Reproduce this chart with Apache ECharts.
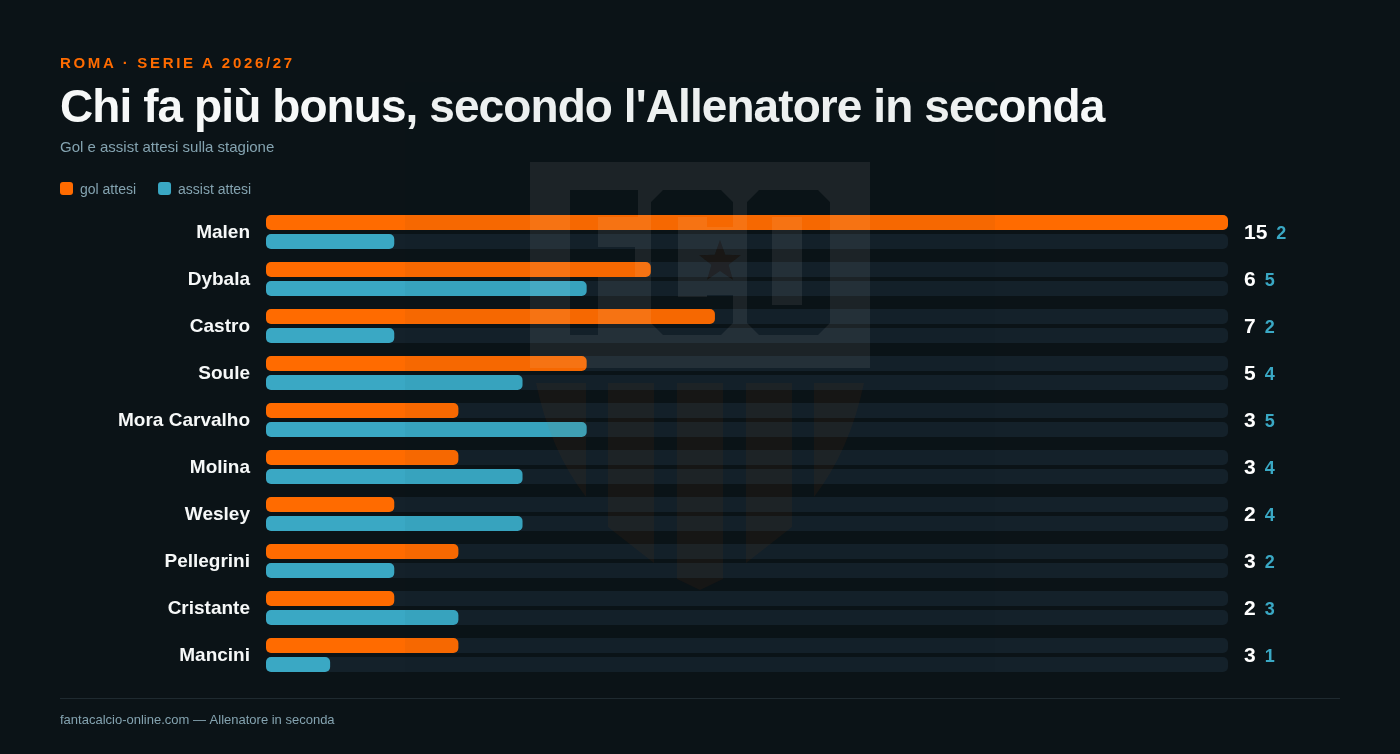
<!DOCTYPE html>
<html lang="it">
<head>
<meta charset="utf-8">
<title>Chi fa più bonus</title>
<style>
html,body{margin:0;padding:0;width:1400px;height:754px;background:#0b1317;overflow:hidden;font-family:"Liberation Sans",Arial,sans-serif}
#eyebrow,#headline{position:absolute;left:60px;white-space:nowrap;margin:0;will-change:transform}
#eyebrow{top:54px;font-size:15px;line-height:18px;font-weight:700;letter-spacing:2.68px;color:#ff6b00}
#headline{top:77px;font-size:46px;line-height:58px;font-weight:700;letter-spacing:-0.92px;color:#f6f8f8}
#chart{position:absolute;left:0;top:0;width:1400px;height:754px}
</style>
</head>
<body>
<div id="eyebrow">ROMA · SERIE A 2026/27</div>
<h1 id="headline">Chi fa più bonus, secondo l'Allenatore in seconda</h1>
<div id="chart"></div>
<script src="https://cdn.jsdelivr.net/npm/echarts@6/dist/echarts.min.js"></script>
<script>
const players = ['Malen','Dybala','Castro','Soule','Mora Carvalho','Molina','Wesley','Pellegrini','Cristante','Mancini'];
const golAttesi = [15,6,7,5,3,3,2,3,2,3];
const assistAttesi = [2,5,2,4,5,4,4,2,3,1];
const seriesNames = ['gol attesi','assist attesi'];
const subtitleText = 'Gol e assist attesi sulla stagione';
const footerText = 'fantacalcio-online.com — Allenatore in seconda';

const ORANGE = '#ff6b00', TEAL = '#3aa8c4', TRACK = '#14212a', MUTED = '#84a3b0';

const starPath = 'M720 240L725.3 254.7L740.9 255.2L728.6 264.8L732.9 279.8L720 271L707.1 279.8L711.4 264.8L699.1 255.2L714.7 254.7Z';
const boxPath = 'M530 162L530 368L870 368L870 162Z'
  + 'M570 190L638 190L638 217L598 217L598 247L635 247L635 277L598 277L598 335L570 335Z'
  + 'M663 190L721 190L733 202L733 227L707 227L707 217L678 217L678 297L707 297L707 295L733 295L733 323L721 335L663 335L651 323L651 202Z'
  + 'M759 190L818 190L830 202L830 323L818 335L759 335L747 323L747 202Z'
  + 'M772 217L772 305L802 305L802 217Z'
  + starPath;
const stripePath = 'M536 383L586 383L586 497Q550 450 536 383Z'
  + 'M608 383L654 383L654 563L608 527Z'
  + 'M677 383L723 383L723 579L700 590L677 579Z'
  + 'M746 383L792 383L792 527L746 563Z'
  + 'M814 383L864 383Q850 450 814 497Z';

echarts.graphic.registerShape('wmBox', echarts.graphic.extendPath(boxPath, {}));
echarts.graphic.registerShape('wmStar', echarts.graphic.extendPath(starPath, {}));
echarts.graphic.registerShape('wmStripes', echarts.graphic.extendPath(stripePath, {}));

const chart = echarts.init(document.getElementById('chart'), null, {renderer:'canvas'});
const barSeries = (name, data, color) => ({
  name, type:'bar', data, yAxisIndex:0, barWidth:15, barGap:'26.67%',
  itemStyle:{color, borderRadius:5},
  showBackground:true,
  backgroundStyle:{color:TRACK, borderRadius:5},
  silent:true
});
chart.setOption({
  backgroundColor:'transparent',
  animation:false,
  title:{
    text:subtitleText, left:60, top:139, padding:0,
    textStyle:{fontFamily:'Liberation Sans', fontSize:15, fontWeight:'normal', color:MUTED, lineHeight:18}
  },
  legend:{
    left:60, top:182, padding:0, itemWidth:13, itemHeight:13, itemGap:22,
    icon:'path://M3 0H10A3 3 0 0 1 13 3V10A3 3 0 0 1 10 13H3A3 3 0 0 1 0 10V3A3 3 0 0 1 3 0Z',
    selectedMode:false, data:seriesNames, formatter:'{t|{name}}',
    textStyle:{fontFamily:'Liberation Sans', fontSize:14, color:MUTED, padding:[0,0,0,2],
      rich:{t:{fontFamily:'Liberation Sans', fontSize:14, color:MUTED, padding:[3,0,0,0]}}}
  },
  grid:{left:266, right:172, top:208.5, height:470, containLabel:false},
  xAxis:{type:'value', min:0, max:15, show:false},
  yAxis:[
    {type:'category', data:players, inverse:true, position:'left',
     axisLine:{show:false}, axisTick:{show:false},
     axisLabel:{margin:16, formatter:v=>`{n|${v}}`,
       rich:{n:{fontFamily:'Liberation Sans', fontSize:19, fontWeight:'bold', color:'#f6f8f8', padding:[1,0,0,0]}}}},
    {type:'category', data:players, inverse:true, position:'right',
     axisLine:{show:false}, axisTick:{show:false},
     axisLabel:{margin:16, align:'left', padding:[2,0,0,0],
       formatter:(v,i)=>`{g|${golAttesi[i]}}{a|${assistAttesi[i]}}`,
       rich:{
         g:{fontFamily:'Liberation Sans', fontSize:21, fontWeight:'bold', color:'#ffffff', padding:[0,9,0,0]},
         a:{fontFamily:'Liberation Sans', fontSize:18, fontWeight:'bold', color:TEAL, padding:[3,0,0,0]}
       }}}
  ],
  series:[barSeries(seriesNames[0], golAttesi, ORANGE), barSeries(seriesNames[1], assistAttesi, TEAL)],
  graphic:{elements:[
    {type:'line', silent:true, z:1, shape:{x1:60,y1:698.5,x2:1340,y2:698.5}, style:{stroke:'#1f2a30', lineWidth:1}},
    {type:'text', silent:true, z:1, x:60, y:714, style:{text:footerText, fill:MUTED, font:'13px "Liberation Sans"'}},
    {type:'rect', silent:true, z:100, shape:{x:405,y:82,width:590,height:590}, style:{fill:'rgba(10,18,22,0.035)'}},
    {type:'wmBox', silent:true, z:101, style:{fill:'rgba(255,255,255,0.075)'}},
    {type:'wmStar', silent:true, z:101, style:{fill:'rgba(230,90,20,0.07)'}},
    {type:'wmStripes', silent:true, z:101, style:{fill:'rgba(224,96,0,0.055)'}}
  ]}
});
</script>
</body>
</html>
